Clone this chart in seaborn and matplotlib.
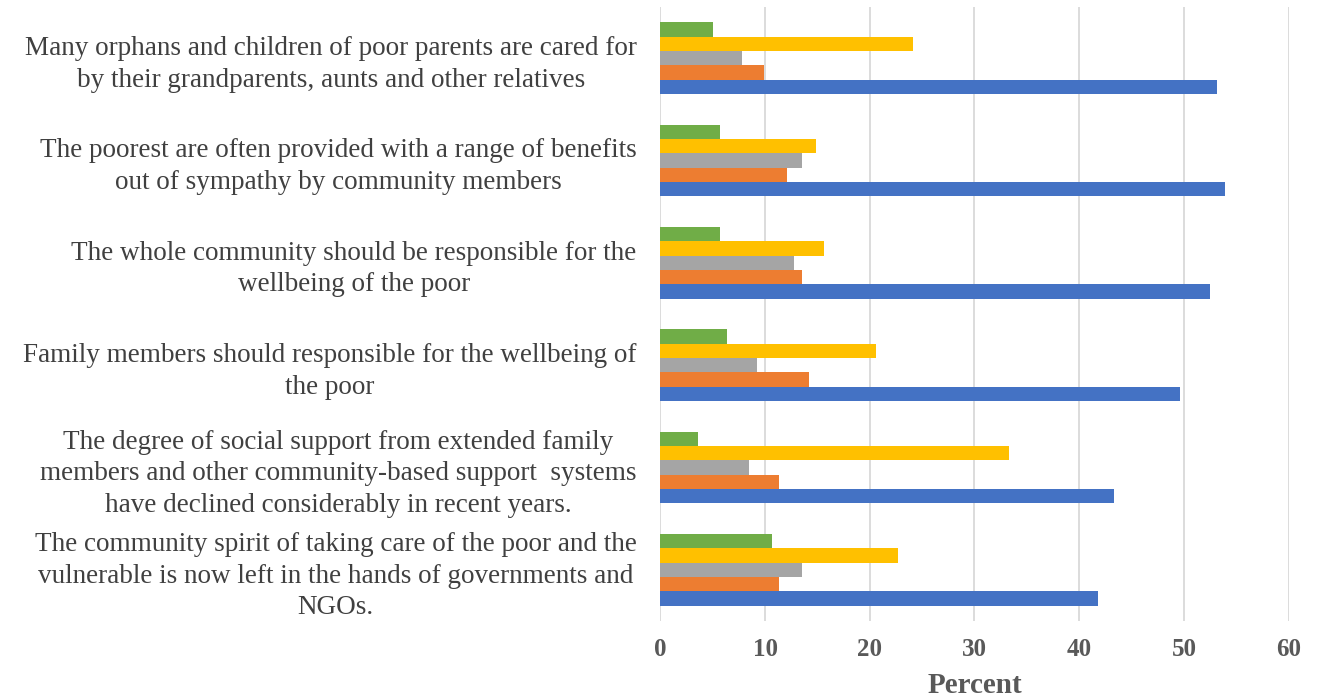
import matplotlib
matplotlib.use("Agg")
import matplotlib.pyplot as plt
import seaborn as sns
import pandas as pd

statements = [
    "Many orphans and children of poor parents are cared for\nby their grandparents, aunts and other relatives",
    "The poorest are often provided with a range of benefits\nout of sympathy by community members",
    "The whole community should be responsible for the\nwellbeing of the poor",
    "Family members should responsible for the wellbeing of\nthe poor",
    "The degree of social support from extended family\nmembers and other community-based support  systems\nhave declined considerably in recent years.",
    "The community spirit of taking care of the poor and the\nvulnerable is now left in the hands of governments and\nNGOs.",
]

# Percent of respondents per response level (one list per level)
response_1 = [53.2, 53.9, 52.5, 49.6, 43.3, 41.8]
response_2 = [9.9, 12.1, 13.5, 14.2, 11.3, 11.3]
response_3 = [7.8, 13.5, 12.8, 9.2, 8.5, 13.5]
response_4 = [24.1, 14.9, 15.6, 20.6, 33.3, 22.7]
response_5 = [5.0, 5.7, 5.7, 6.4, 3.6, 10.7]

levels = ["Response 5", "Response 4", "Response 3", "Response 2", "Response 1"]
level_values = [response_5, response_4, response_3, response_2, response_1]
colors = ["#70AD47", "#FFC000", "#A5A5A5", "#ED7D31", "#4472C4"]

rows = []
for lvl, vals in zip(levels, level_values):
    for st, v in zip(statements, vals):
        rows.append({"Statement": st, "Level": lvl, "Percent": v})
df = pd.DataFrame(rows)

sns.set_style("white")
plt.rcParams["font.family"] = ["Liberation Serif", "DejaVu Serif"]

fig = plt.figure(figsize=(13.24, 6.99), dpi=100)
ax = fig.add_axes([0.4987, 0.1116, 0.4746, 0.8784])

sns.barplot(
    data=df, y="Statement", x="Percent", hue="Level",
    order=statements, hue_order=levels, palette=colors, saturation=1,
    orient="h", width=0.7, dodge=True, errorbar=None,
    linewidth=0, ax=ax, legend=False, zorder=3,
)

ax.set_xlim(0, 60)
ax.set_xticks(range(0, 61, 10))
ax.grid(axis="x", color="#D9D9D9", linewidth=1.3, zorder=0)
ax.grid(axis="y", visible=False)
for s in ax.spines.values():
    s.set_visible(False)

ax.tick_params(axis="x", length=0, pad=12, labelsize=18, labelcolor="#595959")
for t in ax.get_xticklabels():
    t.set_fontweight("bold")
ax.tick_params(axis="y", length=0, pad=17, labelsize=19.5, labelcolor="#404040")
for t in ax.get_yticklabels():
    t.set_multialignment("center")
    t.set_linespacing(1.35)

ax.set_ylabel("")
ax.set_xlabel("Percent", fontsize=21, fontweight="bold", color="#595959", labelpad=8)

fig.savefig("out.png", dpi=100)
